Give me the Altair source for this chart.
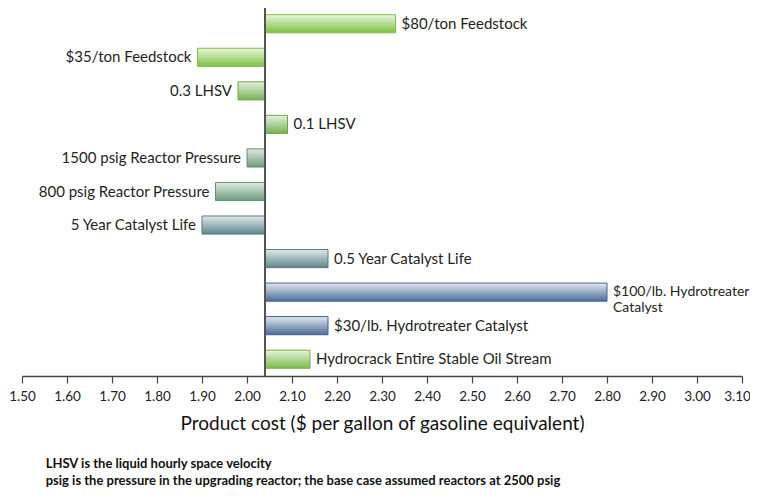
import altair as alt
import pandas as pd

labels = ["$80/ton Feedstock", "$35/ton Feedstock", "0.3 LHSV", "0.1 LHSV",
          "1500 psig Reactor Pressure", "800 psig Reactor Pressure",
          "5 Year Catalyst Life", "0.5 Year Catalyst Life",
          "$100/lb. Hydrotreater\nCatalyst", "$30/lb. Hydrotreater Catalyst",
          "Hydrocrack Entire Stable Oil Stream"]
values = [2.33, 1.89, 1.98, 2.09, 2.00, 1.93, 1.90, 2.18, 2.80, 2.18, 2.14]
groups = ["feed", "feed", "lhsv", "lhsv", "psig", "psig", "life", "life", "htc", "htc", "hc"]
base_cost = 2.04
ticks = [1.5, 1.6, 1.7, 1.8, 1.9, 2.0, 2.1, 2.2, 2.3, 2.4, 2.5, 2.6, 2.7, 2.8, 2.9, 3.0, 3.1]

palette = {
    "feed": ("#eaf6df", "#7cc142", "#7cc142"),
    "lhsv": ("#e4f1dc", "#76b256", "#6aa84a"),
    "psig": ("#e0ece3", "#6c9c7c", "#628f72"),
    "life": ("#e0e9ea", "#5d878d", "#557d83"),
    "htc": ("#e2e8f1", "#4c6c98", "#46628c"),
    "hc": ("#e6f3dc", "#7cbb4e", "#72b044"),
}

df = pd.DataFrame({"label": labels, "value": values, "group": groups})
df["base"] = base_cost
df["side"] = ["pos" if v >= base_cost else "neg" for v in values]

FONT = "Lato"

xscale = alt.Scale(domain=[1.5, 3.1], nice=False, zero=False)
yenc = alt.Y("label:N", sort=labels, axis=None,
             scale=alt.Scale(paddingInner=0.46, paddingOuter=0.23))

base = alt.Chart(df)

bar_layers = []
for g, (light, dark, stroke) in palette.items():
    grad = alt.Gradient(gradient="linear",
                        stops=[alt.GradientStop(color=light, offset=0),
                               alt.GradientStop(color=dark, offset=1)],
                        x1=0, x2=0, y1=0, y2=1)
    bar_layers.append(
        base.transform_filter(alt.datum.group == g)
        .mark_bar(color=grad, stroke=stroke, strokeWidth=1)
        .encode(
            x=alt.X("value:Q", scale=xscale,
                    axis=alt.Axis(values=ticks, format=".2f", grid=False, labelFlush=False,
                                  labelOverlap=False,
                                  labelOffset={"condition": {"test": "datum.value >= 3.09", "value": -5},
                                               "value": 0},
                                  title="Product cost ($ per gallon of gasoline equivalent)",
                                  titleFont=FONT, titleFontSize=19, titleFontWeight="normal",
                                  titleColor="#111111", titlePadding=12,
                                  labelFont=FONT, labelFontSize=13.5, labelColor="#222222",
                                  labelPadding=6, domainColor="#444444", domainWidth=1.5,
                                  tickColor="#444444", tickSize=7, tickWidth=1.2)),
            x2="base:Q",
            y=yenc,
        )
    )

rule = base.mark_rule(color="#555555", strokeWidth=1.5).encode(
    x=alt.X("base:Q", scale=xscale)
)

label_size = alt.condition(alt.datum.value > 2.5, alt.value(14), alt.value(15))

text_pos = base.transform_filter(alt.datum.side == "pos").mark_text(
    align="left", baseline="middle", dx=6, font=FONT,
    color="#231f20", lineBreak="\n"
).encode(x=alt.X("value:Q", scale=xscale), y=yenc, text="label:N", size=label_size)

text_neg = base.transform_filter(alt.datum.side == "neg").mark_text(
    align="right", baseline="middle", dx=-6, font=FONT, fontSize=15,
    color="#231f20", lineBreak="\n"
).encode(x=alt.X("value:Q", scale=xscale), y=yenc, text="label:N")

chart = alt.layer(*bar_layers, rule, text_pos, text_neg).properties(
    width=720, height=369,
    autosize=alt.AutoSizeParams(type="none"),
    padding={"left": 14, "top": -1, "right": 8, "bottom": 112},
    title=alt.TitleParams(
        text=["LHSV is the liquid hourly space velocity",
              "psig is the pressure in the upgrading reactor; the base case assumed reactors at 2500 psig"],
        orient="bottom", anchor="start", dx=37, offset=24,
        font=FONT, fontSize=13, fontWeight="bold", color="#111111", lineHeight=17,
    ),
).configure(background="white").configure_view(stroke=None)

chart.save("out.html", embed_options={"renderer": "svg", "actions": False})
